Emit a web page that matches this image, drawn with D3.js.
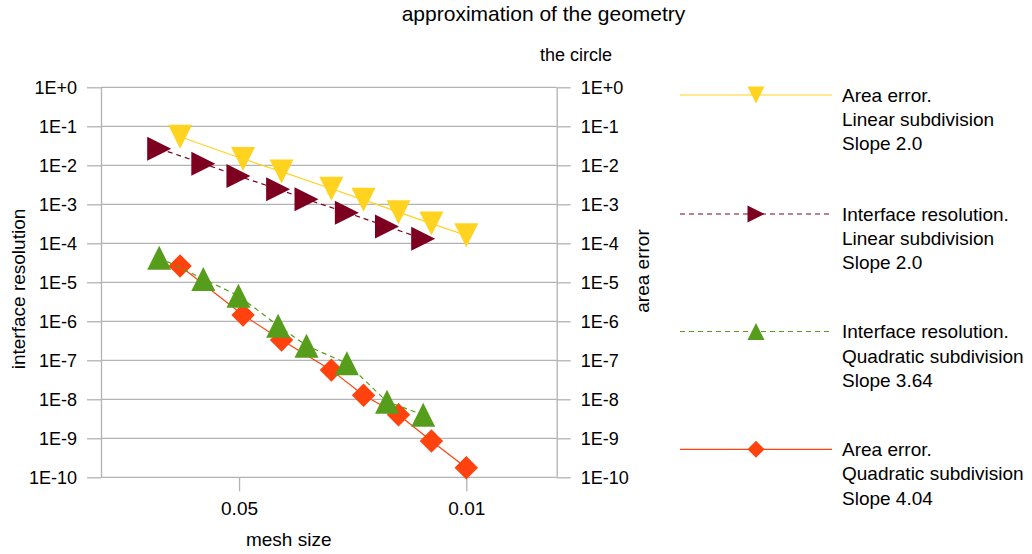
<!DOCTYPE html>
<html>
<head>
<meta charset="utf-8">
<script src="https://cdn.jsdelivr.net/npm/d3@7"></script>
<style>
  body { margin: 0; background: #fff; }
  svg { display: block; }
  text { font-family: "Liberation Sans", Arial, Helvetica, sans-serif; fill: #000; }
</style>
</head>
<body>
<svg id="chart" width="1032" height="554"></svg>
<script>
// Mesh sizes of the runs (two sets of refinements)
const meshAreaError = [0.0759, 0.0486, 0.0370, 0.0260, 0.0207, 0.01616, 0.0128, 0.0100];
const meshInterface = [0.0880, 0.0644, 0.0502, 0.0379, 0.0310, 0.0233, 0.01753, 0.01357];

// Errors measured on the circle
const areaErrorLinear = [5.4e-2, 1.45e-2, 6.9e-3, 2.5e-3, 1.3e-3, 6.3e-4, 3.2e-4, 1.6e-4];
const interfaceLinear = [2.67e-2, 1.10e-2, 5.3e-3, 2.43e-3, 1.34e-3, 6.1e-4, 2.7e-4, 1.31e-4];
const interfaceQuadratic = [4.27e-5, 1.22e-5, 4.53e-6, 7.7e-7, 2.37e-7, 8.4e-8, 8.7e-9, 4.0e-9];
const areaErrorQuadratic = [2.62e-5, 1.45e-6, 3.32e-7, 5.6e-8, 1.27e-8, 4.0e-9, 8.5e-10, 1.76e-10];

// Tick values and their labels
const yTickValues = [1, 1e-1, 1e-2, 1e-3, 1e-4, 1e-5, 1e-6, 1e-7, 1e-8, 1e-9, 1e-10];
const yTickLabels = ["1E+0", "1E-1", "1E-2", "1E-3", "1E-4", "1E-5", "1E-6", "1E-7", "1E-8", "1E-9", "1E-10"];
const xTickValues = [0.05, 0.01];
const xTickLabels = ["0.05", "0.01"];

// Legend text, one array of lines per series
const legendLabels = [
  ["Area error.", "Linear subdivision", "Slope 2.0"],
  ["Interface resolution.", "Linear subdivision", "Slope 2.0"],
  ["Interface resolution.", "Quadratic subdivision", "Slope 3.64"],
  ["Area error.", "Quadratic subdivision", "Slope 4.04"]
];

const series = [
  { x: meshAreaError, y: areaErrorLinear, axis: "right", color: "#ffd320", dash: null, shape: "down" },
  { x: meshInterface, y: interfaceLinear, axis: "left", color: "#7e0021", dash: "5,4", shape: "right" },
  { x: meshInterface, y: interfaceQuadratic, axis: "left", color: "#579d1c", dash: "5,4", shape: "up" },
  { x: meshAreaError, y: areaErrorQuadratic, axis: "right", color: "#ff420e", dash: null, shape: "diamond" }
];

const plot = { left: 101, right: 556.7, top: 87.3, bottom: 477.3 };
const gridColor = "#b3b3b3";

const x = d3.scaleLog().domain([0.1329, 0.005271]).range([plot.left, plot.right]);
const yLeft = d3.scaleLog().domain([1e-10, 1]).range([plot.bottom, plot.top]);
const yRight = d3.scaleLog().domain([1e-10, 1]).range([plot.bottom, plot.top]);

const svg = d3.select("#chart");

function markerPath(shape, s) {
  switch (shape) {
    case "down": return `M${-s},${-s}L${s},${-s}L0,${s}Z`;
    case "right": return `M${-s},${-s}L${s},0L${-s},${s}Z`;
    case "up": return `M0,${-s}L${s},${s}L${-s},${s}Z`;
    default: return `M0,${-s}L${s},0L0,${s}L${-s},0Z`;
  }
}

// Horizontal grid
svg.append("g")
  .selectAll("line")
  .data(yTickValues)
  .join("line")
  .attr("x1", plot.left).attr("x2", plot.right)
  .attr("y1", d => yLeft(d)).attr("y2", d => yLeft(d))
  .attr("stroke", gridColor).attr("stroke-width", 1.3);

function styleAxis(g, size) {
  g.selectAll("path, line").attr("stroke", gridColor).attr("stroke-width", 1.3);
  g.selectAll("text").style("font-size", size + "px").attr("fill", "#000");
  g.attr("font-family", null).attr("font-size", null);
}

// Left axis
svg.append("g")
  .attr("transform", `translate(${plot.left},0)`)
  .call(d3.axisLeft(yLeft).tickValues(yTickValues)
    .tickFormat((d, i) => yTickLabels[i]).tickSize(14).tickSizeOuter(0).tickPadding(10))
  .call(g => styleAxis(g, 18));

// Right axis
svg.append("g")
  .attr("transform", `translate(${plot.right},0)`)
  .call(d3.axisRight(yRight).tickValues(yTickValues)
    .tickFormat((d, i) => yTickLabels[i]).tickSize(14).tickSizeOuter(0).tickPadding(10))
  .call(g => styleAxis(g, 18));

// Bottom axis
svg.append("g")
  .attr("transform", `translate(0,${plot.bottom})`)
  .call(d3.axisBottom(x).tickValues(xTickValues)
    .tickFormat((d, i) => xTickLabels[i]).tickSize(14).tickSizeOuter(0).tickPadding(10))
  .call(g => g.select(".domain").remove())
  .call(g => styleAxis(g, 19));

// Series: drawn last-to-first so the first legend entry sits on top
const seriesLayer = svg.append("g");
series.slice().reverse().forEach(s => {
  const yScale = s.axis === "right" ? yRight : yLeft;
  const pts = s.x.map((xv, i) => [x(xv), yScale(s.y[i])]);
  const g = seriesLayer.append("g");
  g.append("path")
    .attr("d", d3.line()(pts))
    .attr("fill", "none")
    .attr("stroke", s.color)
    .attr("stroke-width", 1.2)
    .attr("stroke-dasharray", s.dash);
  g.selectAll("path.mark")
    .data(pts)
    .join("path")
    .attr("class", "mark")
    .attr("transform", d => `translate(${d[0]},${d[1]})`)
    .attr("d", markerPath(s.shape, s.shape === "diamond" ? 11.7 : 12))
    .attr("fill", s.color);
});

// Legend
const legendY = [95, 214, 331.5, 449.3];
const legend = svg.append("g");
series.forEach((s, i) => {
  const g = legend.append("g").attr("transform", `translate(0,${legendY[i]})`);
  g.append("line")
    .attr("x1", 680).attr("x2", 832).attr("y1", 0).attr("y2", 0)
    .attr("stroke", s.color).attr("stroke-width", 1.2)
    .attr("stroke-dasharray", s.dash);
  g.append("path")
    .attr("transform", "translate(756,0)")
    .attr("d", markerPath(s.shape, 8.5))
    .attr("fill", s.color);
  g.selectAll("text")
    .data(legendLabels[i])
    .join("text")
    .attr("x", 842)
    .attr("y", (d, j) => 6.7 + j * 24.3)
    .style("font-size", "19px")
    .text(d => d);
});

// Titles
svg.append("text")
  .attr("x", 543.5).attr("y", 21)
  .attr("text-anchor", "middle")
  .style("font-size", "21px")
  .text("approximation of the geometry");

svg.append("text")
  .attr("x", 576).attr("y", 61)
  .attr("text-anchor", "middle")
  .style("font-size", "18px")
  .text("the circle");

svg.append("text")
  .attr("x", 288.7).attr("y", 546)
  .attr("text-anchor", "middle")
  .style("font-size", "19px")
  .text("mesh size");

svg.append("text")
  .attr("transform", "translate(24.5,289) rotate(-90)")
  .attr("text-anchor", "middle")
  .style("font-size", "19px")
  .text("interface resolution");

svg.append("text")
  .attr("transform", "translate(649,271) rotate(-90)")
  .attr("text-anchor", "middle")
  .style("font-size", "19px")
  .text("area error");
</script>
</body>
</html>
